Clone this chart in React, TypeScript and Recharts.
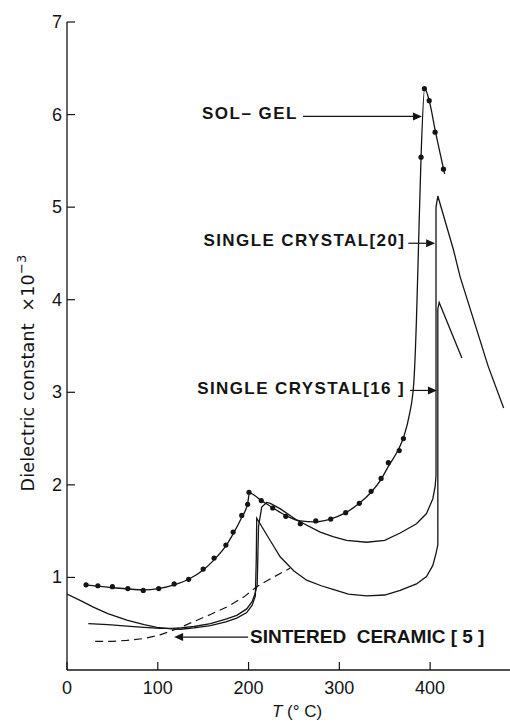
import React from "react";
import { ComposedChart, Line, Scatter, XAxis, YAxis, ReferenceLine } from "recharts";

const xTicks = [0, 100, 200, 300, 400];
const yTicks = [1, 2, 3, 4, 5, 6, 7];

// sol-gel: line through the measured points
const solGelLineT = [21, 34, 50, 67, 84, 101, 118, 134, 150, 162, 175, 183, 192, 199, 201, 214, 227, 241, 257, 273, 290, 307, 322, 335, 346, 354, 366, 371, 377, 382, 385, 387, 390, 394, 399, 406, 416];
const solGelLineE = [0.92, 0.905, 0.89, 0.875, 0.865, 0.88, 0.92, 0.98, 1.08, 1.19, 1.34, 1.47, 1.64, 1.8, 1.91, 1.83, 1.75, 1.67, 1.61, 1.6, 1.63, 1.7, 1.8, 1.92, 2.06, 2.2, 2.4, 2.52, 2.75, 3.1, 3.8, 4.5, 5.54, 6.28, 6.15, 5.81, 5.36];
const solGelDotT = [21, 34, 50, 67, 84, 101, 118, 134, 150, 162, 175, 183, 192.5, 199, 200.5, 214, 226.6, 241, 257, 274, 290.5, 307, 322, 335, 346, 354, 366, 370.6, 390, 393.7, 399, 405.5, 414.7];
const solGelDotE = [0.92, 0.91, 0.9, 0.88, 0.86, 0.88, 0.93, 0.98, 1.09, 1.21, 1.35, 1.49, 1.67, 1.79, 1.92, 1.83, 1.75, 1.66, 1.58, 1.61, 1.63, 1.7, 1.8, 1.93, 2.07, 2.24, 2.37, 2.5, 5.54, 6.28, 6.15, 5.81, 5.41];

// single crystal [16]
const crystal16T = [0, 15, 29, 45, 66, 85, 99, 115, 125, 140, 158, 175, 187, 198, 204, 207.5, 208.5, 209, 214.5, 225, 235, 250, 264, 280, 293, 310, 330, 350, 367, 385, 396, 403, 406.5, 408.5, 408.5, 410, 435];
const crystal16E = [0.82, 0.75, 0.68, 0.61, 0.54, 0.49, 0.46, 0.445, 0.44, 0.455, 0.48, 0.52, 0.56, 0.62, 0.7, 0.8, 1.2, 1.64, 1.55, 1.38, 1.22, 1.07, 0.97, 0.91, 0.87, 0.82, 0.8, 0.81, 0.86, 0.93, 1.01, 1.13, 1.26, 1.35, 3.9, 3.97, 3.37];

// single crystal [20]
const crystal20T = [23.5, 45, 66, 85, 102, 115, 125, 140, 158, 175, 187, 198, 204, 207, 209.5, 211, 214.5, 220, 224, 235, 253, 279, 293, 308, 330, 350, 367, 385, 396, 403, 405.5, 406.5, 406.5, 408.5, 425.7, 433, 464, 481];
const crystal20E = [0.5, 0.49, 0.475, 0.46, 0.45, 0.45, 0.455, 0.47, 0.5, 0.55, 0.59, 0.66, 0.74, 0.82, 0.92, 1.55, 1.76, 1.81, 1.8, 1.74, 1.62, 1.49, 1.44, 1.4, 1.38, 1.4, 1.48, 1.58, 1.69, 1.85, 1.98, 2.1, 5.0, 5.12, 4.54, 4.25, 3.28, 2.83];

// sintered ceramic [5] (dashed)
const ceramicT = [31, 50, 66, 85, 102.5, 120, 139, 158, 176, 195, 209, 225, 245.7];
const ceramicE = [0.31, 0.31, 0.32, 0.34, 0.38, 0.44, 0.52, 0.6, 0.68, 0.79, 0.9, 0.99, 1.1];

// annotation arrows
const arrowNames = ["SOL\u2013 GEL", "SINGLE CRYSTAL[20]", "SINGLE CRYSTAL[16 ]", "SINTERED  CERAMIC [ 5 ]"];
const arrowFromT = [260, 376, 378, 199.5];
const arrowToT = [391, 405.5, 407.5, 118];
const arrowE = [5.98, 4.61, 3.02, 0.356];

const zip = (t: number[], e: number[]) => t.map((T, i) => ({ T, e: e[i] }));
const solGelLine = zip(solGelLineT, solGelLineE);
const solGelDots = zip(solGelDotT, solGelDotE);
const crystal16 = zip(crystal16T, crystal16E);
const crystal20 = zip(crystal20T, crystal20E);
const ceramic = zip(ceramicT, ceramicE);

const ink = "#141414";
const numFont = "Liberation Sans";

const XTick = (p: any) => (
  <g>
    <line x1={p.x} x2={p.x} y1={p.y} y2={p.y - 8} stroke={ink} strokeWidth={1.2} />
    <text x={p.x} y={p.y + 24} textAnchor="middle" fontFamily={numFont} fontSize={18} fill={ink}>
      {p.payload.value}
    </text>
  </g>
);

const YTick = (p: any) => (
  <g>
    <line x1={p.x} x2={p.x + 8} y1={p.y} y2={p.y} stroke={ink} strokeWidth={1.2} />
    <text x={p.x - 5} y={p.y + 6} textAnchor="end" fontFamily={numFont} fontSize={18} fill={ink}>
      {p.payload.value}
    </text>
  </g>
);

const YLabel = (p: any) => {
  const vb = p.viewBox;
  const cx = vb.x + 21;
  const cy = vb.y + vb.height / 2 + 27;
  return (
    <text
      x={cx}
      y={cy + 6}
      transform={`rotate(-90 ${cx} ${cy})`}
      textAnchor="middle"
      fontFamily="DejaVu Sans"
      fontSize={17.5}
      letterSpacing={0.2}
      style={{ whiteSpace: "pre" }}
      fill={ink}
    >
      Dielectric constant  ×10
      <tspan dy={-8} fontSize={13}>−3</tspan>
    </text>
  );
};

const XLabel = (p: any) => {
  const vb = p.viewBox;
  return (
    <text x={vb.x + 230} y={vb.y + 47} textAnchor="middle" fontFamily={numFont} fontSize={17} fill={ink}>
      <tspan fontStyle="italic">T</tspan> (° C)
    </text>
  );
};

const textGap = [5, 3, 5, 2];
const baseShift = [3, 3, 4, 6];
const labelSize = [17, 17, 17, 19];
const labelSpacing = [1.5, 1.4, 1.4, 0];

const makeArrow = (i: number) => (p: any) => {
  const { x1, y1, x2, y2 } = p;
  const dir = x2 > x1 ? 1 : -1;
  const head = 9;
  const right = dir < 0;
  return (
    <g>
      <line x1={x1} y1={y1} x2={x2 - dir * head} y2={y2} stroke={ink} strokeWidth={1.2} />
      <polygon
        points={`${x2},${y2} ${x2 - dir * head},${y2 - 4} ${x2 - dir * head},${y2 + 4}`}
        fill={ink}
      />
      <text
        x={right ? x1 + textGap[i] : x1 - textGap[i]}
        y={y1 + baseShift[i]}
        textAnchor={right ? "start" : "end"}
        fontFamily="Liberation Sans"
        fontWeight="bold"
        fontSize={labelSize[i]}
        letterSpacing={labelSpacing[i]}
        style={{ whiteSpace: "pre" }}
        fill={ink}
      >
        {arrowNames[i]}
      </text>
    </g>
  );
};

export default function App() {
  return (
    <div style={{ position: "absolute", left: 0, top: 0, background: "#fff" }}>
      <ComposedChart width={510} height={724} margin={{ top: 22, right: 0, bottom: 4, left: 7 }}>
        <XAxis
          dataKey="T"
          type="number"
          domain={[0, 488]}
          ticks={xTicks}
          height={50}
          tickSize={0}
          tickMargin={0}
          tickLine={false}
          axisLine={{ stroke: ink, strokeWidth: 1.3 }}
          tick={<XTick />}
          label={XLabel}
          allowDataOverflow
        />
        <XAxis
          xAxisId="top"
          orientation="top"
          type="number"
          domain={[0, 488]}
          height={0}
          tick={false}
          tickLine={false}
          axisLine={{ stroke: ink, strokeWidth: 1.3 }}
        />
        <YAxis
          type="number"
          domain={[0, 7]}
          ticks={yTicks}
          width={60}
          tickSize={0}
          tickMargin={0}
          tickLine={false}
          axisLine={{ stroke: ink, strokeWidth: 1.3 }}
          tick={<YTick />}
          label={YLabel}
          allowDataOverflow
        />
        <Line data={crystal16} dataKey="e" type="linear" stroke={ink} strokeWidth={1.3} dot={false} isAnimationActive={false} />
        <Line data={crystal20} dataKey="e" type="linear" stroke={ink} strokeWidth={1.3} dot={false} isAnimationActive={false} />
        <Line data={ceramic} dataKey="e" type="linear" stroke={ink} strokeWidth={1.2} strokeDasharray="8 5" dot={false} isAnimationActive={false} />
        <Line data={solGelLine} dataKey="e" type="monotone" stroke={ink} strokeWidth={1.3} dot={false} isAnimationActive={false} />
        <Scatter
          data={solGelDots}
          dataKey="e"
          isAnimationActive={false}
          shape={(p: any) => <circle cx={p.cx} cy={p.cy} r={2.6} fill={ink} />}
        />
        {arrowNames.map((n, i) => (
          <ReferenceLine
            key={n}
            segment={[
              { x: arrowFromT[i], y: arrowE[i] },
              { x: arrowToT[i], y: arrowE[i] },
            ]}
            shape={makeArrow(i)}
          />
        ))}
      </ComposedChart>
    </div>
  );
}
